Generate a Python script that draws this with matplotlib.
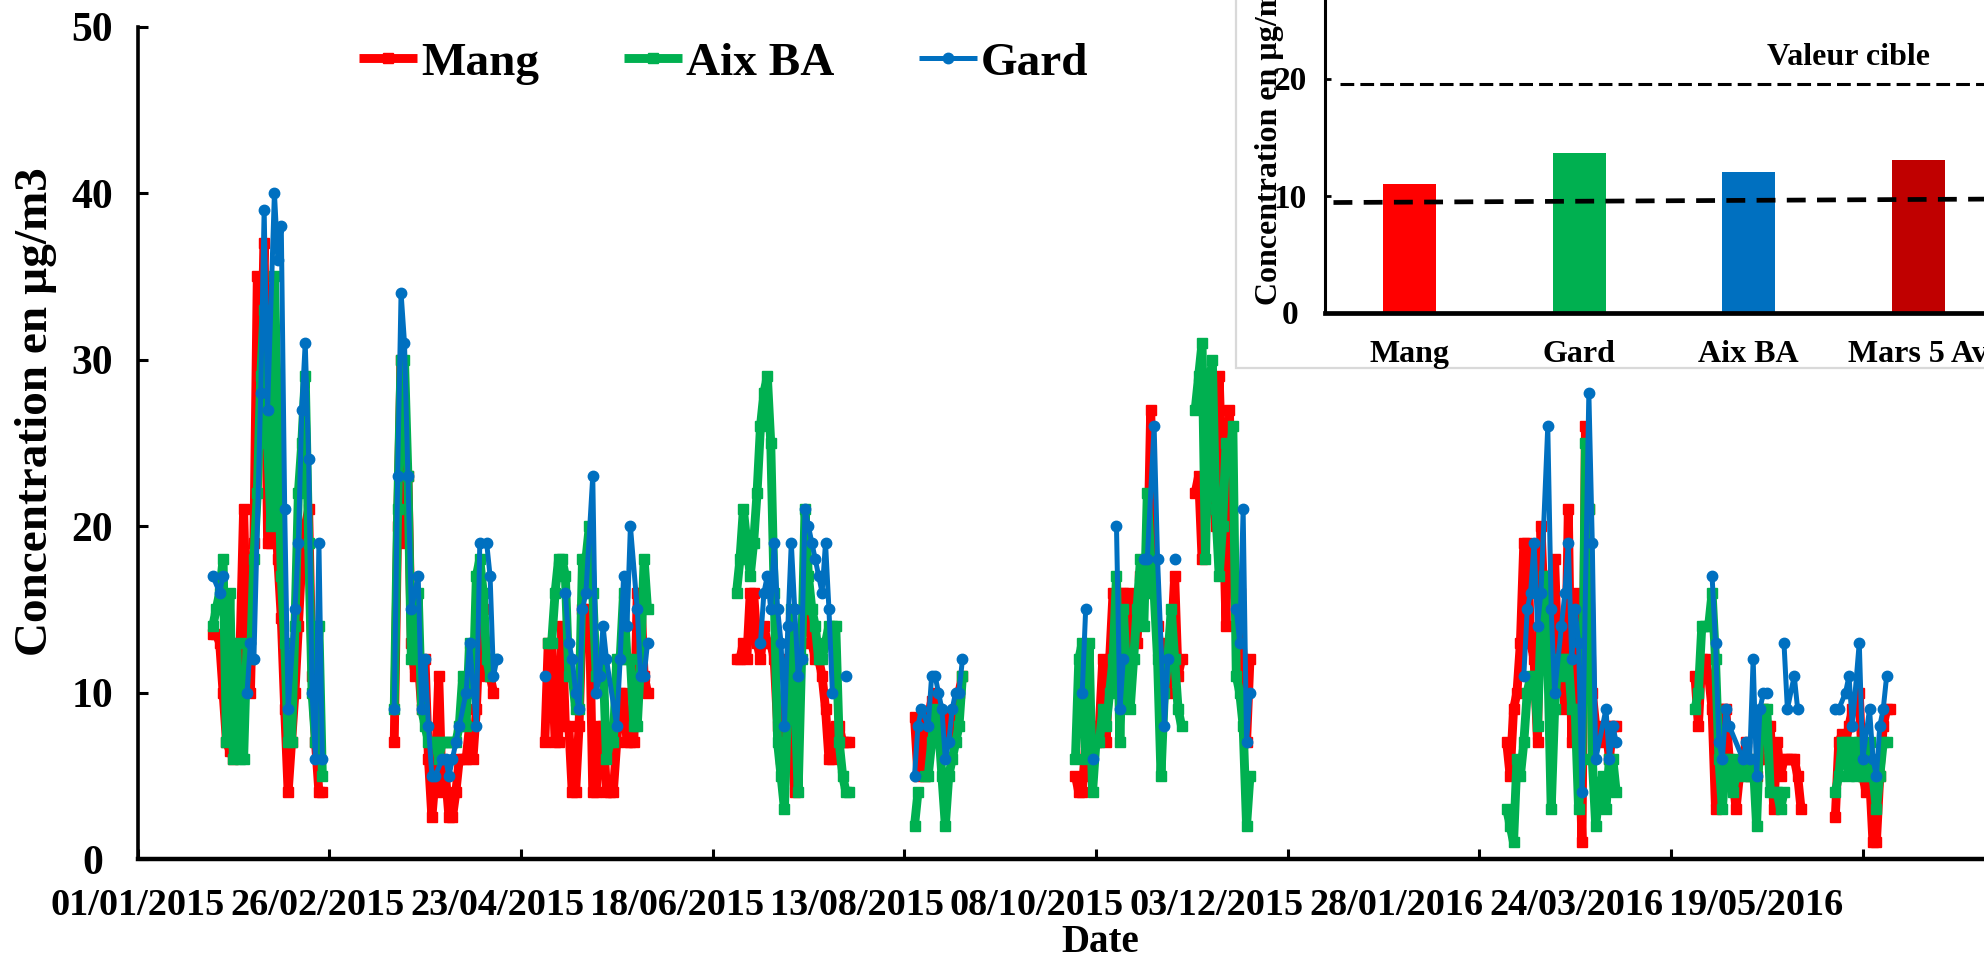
import numpy as np
import matplotlib
matplotlib.use("Agg")
import matplotlib.pyplot as plt
from matplotlib.patches import Rectangle

plt.rcParams['font.family'] = ['Liberation Serif', 'DejaVu Serif']
plt.rcParams['font.weight'] = 'bold'

# ---------------- data (x = days since 01/01/2015) ----------------
series_names = ['Mang', 'Aix BA', 'Gard']

# (first day, consecutive daily values)
mang_segments = [
    (22, [13.5, 13.5, 13, 10, 7, 6.5, 6, 10, 13, 21, 13, 10, 19, 35, 30, 37, 19, 19, 23, 18, 14.5, 9, 4, 7, 10, 14, 18, 20, 21, 11, 7, 4, 4]),
    (75, [7, 20, 30, 19, 23, 13, 11, 12, 9, 12, 6, 2.5, 5, 11, 4, 5, 2.5, 2.5, 4, 6, 6, 6, 8, 6, 9, 14, 15, 11, 11, 10]),
    (119, [7, 13, 13, 7, 7, 14, 8, 8, 4, 4, 8, 15, 13, 15, 4, 4, 8, 8, 4, 4, 4, 7, 10, 10, 7, 7, 7, 16, 16, 11, 10]),
    (175, [12, 12, 13, 12, 16, 16, 13, 12, 14, 13, 13, 12, 8, 6, 8, 12, 8, 4, 10, 13, 15, 15, 13, 12, 12, 11, 9, 6, 6, 8, 8, 7, 7, 7]),
    (227, [8.5, 5, 8.5, 5, 8.5, 9.5, 10, 9, 8, 8.5, 7, 8, 9, 10, 11]),
    (274, [5, 4, 4, 7, 5, 7, 7, 8, 12, 7, 12, 16, 13, 16, 16, 11, 16, 14, 13, 17, 16, 17, 27, 18, 14, 12, 13, 10, 13, 17, 11, 12]),
    (309, [22, 23, 18, 21, 25, 22, 20, 29, 22, 14, 27, 17, 16, 16, 12, 7, 12]),
    (400, [7, 5, 9, 10, 13, 19, 19, 13, 12, 7, 20, 15, 16, 17, 18, 12, 14, 9, 21, 7, 16, 8, 1, 26, 21, 10, 8, 7, 7.5, 8, 6, 8, 8]),
    (455, [11, 8, 12, 12, 11, 9, 3, 9, 9, 9, 6, 5, 3, 5, 6, 7, 5, 6, 5, 6, 9, 8, 8, 3, 7, 5, 6, 6, 6, 6, 5, 3]),
    (496, [2.5, 7, 7.5, 7, 8, 9, 9, 10, 5, 4, 5, 1, 1, 5, 8, 9, 9]),
]

aix_segments = [
    (22, [14, 15, 16, 18, 7, 16, 6, 13, 6, 6, 13, 12, 18, 22, 29, 33, 25, 20, 35, 26, 17, 13, 7, 7, 14, 22, 25, 29, 19, 10, 7, 14, 5]),
    (75, [9, 21, 30, 30, 23, 12, 12, 16, 9, 8, 7, 7, 7, 6, 7, 7, 7, 7, 7, 8, 11, 8, 13, 10, 17, 18, 16, 12, 11, 12]),
    (120, [13, 13, 16, 18, 18, 17, 11, 11, 9, 9, 18, 18, 20, 16, 11, 12, 12, 6, 7, 7, 12, 12, 16, 12, 12, 8, 8, 12, 18, 15]),
    (175, [16, 18, 21, 19, 17, 19, 22, 26, 28, 29, 25, 16, 7, 5, 3, 10, 15, 10, 4, 12, 21, 17, 15, 14, 12, 12, 13, 14, 14, 14, 7, 5, 4, 4]),
    (227, [2, 4]),
    (230, [5, 5, 7, 9, 8, 5, 2, 5, 6, 7, 8, 11]),
    (274, [6, 12, 13, 6, 13, 4, 7, 7, 9, 8, 10, 12, 17, 7, 15, 11, 9, 12, 15, 18, 14, 22, 18, 16, 12, 5, 10, 12, 15, 12, 9, 8]),
    (309, [27, 29, 31, 18, 28, 30, 21, 17, 20, 25, 24, 26, 11, 10, 8, 2, 5]),
    (400, [3, 2, 1, 6, 5, 7, 10, 11, 11, 8, 14, 17, 12, 3, 9, 12, 11, 12, 12, 9, 9, 3, 6, 25, 21, 6, 2, 4, 5, 3, 6, 6, 4]),
    (455, [9, 10, 14, 14, 14, 16, 12, 6, 3, 6, 6, 4, 5, 6, 6, 5, 5, 6, 2, 8, 9, 9, 4, 4, 4, 3, 4]),
    (496, [4, 5, 7, 7, 5, 7, 5, 7, 5, 5, 7, 5, 3, 5, 7, 7]),
]

# (sampled days, values)
gard_segments = [
    ([22, 24, 25], [17, 16, 17]),
    ([32, 33, 34, 36, 37, 38, 40, 41, 42, 43, 44, 46, 47, 48, 49, 50, 51, 52, 53, 54],
     [10, 13, 12, 28, 39, 27, 40, 36, 38, 21, 9, 15, 19, 27, 31, 24, 10, 6, 19, 6]),
    ([75, 76, 77, 78, 79, 80, 82, 83, 84, 85, 86, 87, 89, 90, 91, 92, 93, 94, 96, 97, 99, 100, 102, 103, 104, 105],
     [9, 23, 34, 31, 23, 15, 17, 9, 12, 8, 5, 5, 6, 6, 5, 6, 7, 8, 10, 13, 8, 19, 19, 17, 11, 12]),
    ([119], [11]),
    ([125, 126, 127, 128, 129, 130, 131, 133, 134, 135, 136, 137, 140, 141, 142, 143, 144, 146, 147, 148, 149],
     [16, 13, 12, 10, 9, 15, 16, 23, 10, 11, 14, 12, 8, 12, 17, 14, 20, 15, 11, 11, 13]),
    ([182, 183, 184, 185, 186, 187, 188, 189, 190, 191, 192, 193, 194, 195, 196, 197, 198, 199, 200, 201, 202, 203],
     [13, 16, 17, 15, 19, 15, 13, 8, 14, 19, 15, 11, 12, 21, 20, 19, 18, 17, 16, 19, 15, 10]),
    ([207], [11]),
    ([227, 228, 229, 231, 232, 233, 234, 235, 236, 237, 238, 239, 240, 241],
     [5, 8, 9, 8, 11, 11, 10, 9, 6, 7, 9, 10, 10, 12]),
    ([276, 277], [10, 15]),
    ([279], [6]),
    ([286, 287, 288], [20, 9, 12]),
    ([294, 295, 297, 298, 300, 301], [18, 18, 26, 18, 8, 12]),
    ([303], [18]),
    ([321, 322, 323, 324, 325], [15, 13, 21, 7, 10]),
    ([405, 406, 407, 408, 409, 410, 412, 413, 414, 416, 417, 418, 419, 420, 421, 422, 424, 425, 426, 429, 430, 431, 432],
     [11, 15, 16, 19, 14, 16, 26, 15, 10, 14, 16, 19, 12, 15, 13, 4, 28, 19, 6, 9, 6, 8, 7]),
    ([460, 461, 462, 463, 464, 465, 469, 470, 471, 472, 473, 474, 475, 476],
     [17, 13, 7, 6, 9, 8, 6, 7, 6, 12, 5, 9, 10, 10]),
    ([481, 482, 484, 485], [13, 9, 11, 9]),
    ([496, 497, 499, 500, 501, 503, 504, 506, 507, 508, 509, 510, 511],
     [9, 9, 10, 11, 8, 13, 6, 9, 6, 5, 8, 9, 11]),
]

x_tick_labels = ['01/01/2015', '26/02/2015', '23/04/2015', '18/06/2015', '13/08/2015',
                 '08/10/2015', '03/12/2015', '28/01/2016', '24/03/2016', '19/05/2016']

# inset bar chart
inset_categories = ['Mang', 'Gard', 'Aix BA', 'Mars 5 Av']
inset_values = [11.0, 13.6, 12.0, 13.0]
inset_colors = ['#FF0000', '#00B050', '#0070C0', '#C00000']
valeur_cible = 19.5
lower_line = (9.4, 9.7)

# ---------------- layout ----------------
W, H = 1984, 959
fig = plt.figure(figsize=(W / 100, H / 100), dpi=100)

px_per_day = 3.423
x0_px, y0_px, ytop_px = 137.5, 859, 26.6
right_px = 2060
ax = fig.add_axes([x0_px / W, (H - y0_px) / H, (right_px - x0_px) / W, (y0_px - ytop_px) / H])
ax.set_zorder(0)


def to_xy(seg):
    days, vals = seg
    if isinstance(days, int):
        days = list(range(days, days + len(vals)))
    return np.array(days, float), np.array(vals, float)


styles = {
    'Mang': dict(color='#FF0000', lw=6.4, marker='s', ms=7),
    'Aix BA': dict(color='#00B050', lw=6.4, marker='s', ms=7),
    'Gard': dict(color='#0070C0', lw=3.6, marker='o', ms=7.5),
}
handles = []
for name, segs in zip(series_names, [mang_segments, aix_segments, gard_segments]):
    first = True
    for seg in segs:
        x, y = to_xy(seg)
        ln, = ax.plot(x, y, solid_capstyle='butt', **styles[name])
        if first:
            handles.append(ln)
            first = False

ax.set_xlim(0, (right_px - x0_px) / px_per_day)
ax.set_ylim(0, 50)
ax.set_yticks(range(0, 51, 10))
for s in ['top', 'right']:
    ax.spines[s].set_visible(False)
ax.spines['left'].set_linewidth(2.6)
ax.spines['bottom'].set_linewidth(3.2)

ax.xaxis.remove_overlapping_locs = False
ax.set_xticks(np.arange(0, 561, 56))
ax.set_xticklabels([])
label_step = 52.53
ax.set_xticks(np.arange(len(x_tick_labels)) * label_step, minor=True)
ax.set_xticklabels(x_tick_labels, minor=True)
ax.tick_params(axis='x', which='major', direction='in', length=7.5, width=2.2)
ax.tick_params(axis='x', which='minor', length=0, pad=21, labelsize=27.5)
ax.tick_params(axis='y', direction='in', length=7.5, width=2.2, pad=32.5, labelsize=30)
for lab in ax.get_yticklabels():
    lab.set_ha('center')

fig.text(36 / W, 1 - 412 / H, 'Concentration en µg/m3', rotation=90, ha='center', va='center',
         fontsize=34, fontweight='bold')
fig.text(1100 / W, 1 - 943 / H, 'Date', ha='center', va='center', fontsize=28, fontweight='bold')

ax.legend(handles, series_names, loc='center left', bbox_to_anchor=(359 / W, 1 - 63 / H),
          bbox_transform=fig.transFigure, ncol=3, frameon=False, fontsize=34,
          handlelength=1.23, handletextpad=0.08, columnspacing=1.8, borderpad=0,
          borderaxespad=0, numpoints=1)

# ---------------- inset ----------------
box = Rectangle((1236 / W, (H - 368) / H), (2100 - 1236) / W, (368 + 20) / H,
                transform=fig.transFigure, facecolor='white', edgecolor='#d9d9d9', lw=1.6, zorder=1)
fig.add_artist(box)

ins_left, ins_base, cat_px, unit_px = 1325, 312.5, 169.5, 11.7
ins = fig.add_axes([ins_left / W, (H - ins_base) / H, 4 * cat_px / W, 30 * unit_px / H])
ins.set_zorder(2)
ins.patch.set_alpha(0)
xs = np.arange(len(inset_categories))
ins.bar(xs, inset_values, width=0.31, color=inset_colors, zorder=2)
ins.set_xlim(-0.5, 3.5)
ins.set_ylim(0, 30)
ins.set_xticks(xs)
ins.set_xticklabels(inset_categories)
ins.set_yticks([0, 10, 20, 30])
for s in ['top', 'right']:
    ins.spines[s].set_visible(False)
ins.spines['left'].set_linewidth(2.2)
ins.spines['bottom'].set_linewidth(3.4)
ins.tick_params(axis='x', length=0, pad=20, labelsize=23)
ins.tick_params(axis='y', direction='in', length=4.5, width=2, pad=25, labelsize=24)
for lab in ins.get_yticklabels():
    lab.set_ha('center')

ins.plot([-0.41, 3.6], [valeur_cible, valeur_cible], color='black', lw=2.2,
         ls=(0, (4.5, 2.0)), clip_on=False, zorder=3)
ins.plot([-0.45, 3.5], list(lower_line), color='black', lw=3.4,
         ls=(0, (4.0, 2.4)), clip_on=False, zorder=3)
ins.text(2.59, valeur_cible + 2.3, 'Valeur cible', ha='center', va='center', fontsize=23,
         fontweight='bold')
fig.text(1270 / W, 1 - 305 / H, 'Concentration en µg/m3', rotation=90, ha='center',
         va='bottom', fontsize=23, fontweight='bold', zorder=3)

fig.savefig('out.png', dpi=100)
